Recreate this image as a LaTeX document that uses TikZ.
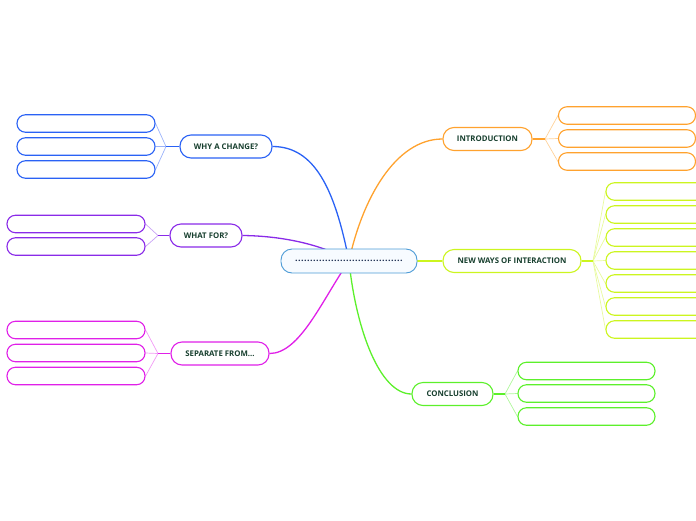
\documentclass[tikz,border=0pt]{standalone}
\usepackage{fontspec}
\setmainfont{Open Sans}
\usetikzlibrary{backgrounds,calc}
\definecolor{txt}{HTML}{173F2E}
\definecolor{cblue}{HTML}{2A62F5}\definecolor{lblue}{HTML}{9AB2FA}
\definecolor{cpurp}{HTML}{8A2BE8}\definecolor{lpurp}{HTML}{C8A2F5}
\definecolor{cmag}{HTML}{E020E8}\definecolor{lmag}{HTML}{F29AF5}
\definecolor{corg}{HTML}{FFA22E}\definecolor{lorg}{HTML}{FFD29A}
\definecolor{cyel}{HTML}{CCF51F}\definecolor{lyel}{HTML}{E8FA9E}
\definecolor{cgrn}{HTML}{5CF02B}\definecolor{lgrn}{HTML}{AEF79A}
\definecolor{cbord}{HTML}{4C9BD6}\definecolor{cfill}{HTML}{F7FBFF}
\definecolor{dotc}{HTML}{1C2D4F}
\newcommand\dotrow{\foreach \i in {1,...,36}{\makebox[3pt]{.}}}
\newcommand\twigs[3]{% junction, leaf prefix, list
  \foreach \n in {#3}{\draw[twig] (#1) .. controls ($(#1)!0.7!(#2\n)$ |- #1) and ($(#1)!0.3!(#2\n)$ |- #2\n) .. (#2\n);}}
\tikzset{
  mainnode/.style={draw=#1, line width=1.1pt, rounded corners=11pt, fill=white,
    minimum height=23pt, inner sep=0pt, font=\fontsize{7.8}{9}\selectfont\bfseries, text=txt},
  leaf/.style={draw=#1, line width=1.1pt, rounded corners=8.5pt, fill=white,
    minimum height=17.5pt, minimum width=138pt, inner sep=0pt},
  stub/.style={draw=#1, line width=1.2pt},
  twig/.style={line width=0.7pt},
  branch/.style={draw=#1, line width=1.3pt},
}
\begin{document}
\begin{tikzpicture}[x=1pt,y=-1pt]
\useasboundingbox (0,0) rectangle (696,520);
\clip (0,0) rectangle (696,520);
% central
\node[draw=cbord, line width=0.9pt, rounded corners=11pt, fill=cfill, minimum width=136pt,
  minimum height=24pt, inner sep=0pt, text=dotc, font=\fontsize{9}{9}\selectfont\bfseries] (c) at (349,261) {\dotrow};
% main nodes
\node[mainnode=cblue, minimum width=92pt] (why) at (226,146.5) {WHY A CHANGE?};
\node[mainnode=cpurp, minimum width=72pt] (wf) at (206,235.5) {WHAT FOR?};
\node[mainnode=cmag, minimum width=98pt] (sep) at (220,353.5) {SEPARATE FROM...};
\node[mainnode=corg, minimum width=89pt] (intro) at (487.5,139) {INTRODUCTION};
\node[mainnode=cyel, minimum width=138pt] (nw) at (512,261) {NEW WAYS OF INTERACTION};
\node[mainnode=cgrn, minimum width=81pt] (con) at (452.5,394) {CONCLUSION};
% leaves
\foreach \n/\y in {1/123.5,2/146.5,3/169.5}{\node[leaf=cblue] (why\n) at (86,\y) {};}
\foreach \n/\y in {1/224,2/246.5}{\node[leaf=cpurp] (wf\n) at (76,\y) {};}
\foreach \n/\y in {1/330,2/353,3/376}{\node[leaf=cmag] (sep\n) at (76,\y) {};}
\foreach \n/\y in {1/115.5,2/138.5,3/161.5}{\node[leaf=corg, minimum width=137pt] (in\n) at (627,\y) {};}
\foreach \n/\y in {1/191.5,2/214.5,3/237.5,4/260.5,5/283.5,6/306.5,7/329.5}{\node[leaf=cyel] (nw\n) at (675,\y) {};}
\foreach \n/\y in {1/371,2/393.5,3/416.5}{\node[leaf=cgrn, minimum width=137pt] (con\n) at (586.5,\y) {};}
% junction points
\coordinate (jwhy) at (166,146.5);
\coordinate (jwf) at (158,235.5);
\coordinate (jsep) at (158,353.5);
\coordinate (jin) at (545,139);
\coordinate (jnw) at (593,261);
\coordinate (jcon) at (505,394);
\begin{scope}[on background layer]
% main branches
\draw[branch=cblue] (c.center) .. controls (335,190) and (315,146.5) .. (why.east);
\draw[branch=cpurp] (wf.east) .. controls (290,236) and (330,248) .. (c.center);
\draw[branch=cmag] (sep.east) .. controls (300,353.5) and (322,300) .. (c.center);
\draw[branch=corg] (c.center) .. controls (362,200) and (395,139) .. (intro.west);
\draw[branch=cyel] (c.center) -- (nw.west);
\draw[branch=cgrn] (c.center) .. controls (356,330) and (380,394) .. (con.west);
% twigs
\begin{scope}[lblue]\twigs{jwhy}{why}{1.east,2.east,3.east}\end{scope}
\begin{scope}[lpurp]\twigs{jwf}{wf}{1.east,2.east}\end{scope}
\begin{scope}[lmag]\twigs{jsep}{sep}{1.east,2.east,3.east}\end{scope}
\begin{scope}[lorg]\twigs{jin}{in}{1.west,2.west,3.west}\end{scope}
\begin{scope}[lyel]\twigs{jnw}{nw}{1.west,2.west,3.west,4.west,5.west,6.west,7.west}\end{scope}
\begin{scope}[lgrn]\twigs{jcon}{con}{1.west,2.west,3.west}\end{scope}
% stubs
\draw[stub=cblue] (why.west) -- (jwhy);
\draw[stub=cpurp] (wf.west) -- (jwf);
\draw[stub=cmag] (sep.west) -- (jsep);
\draw[stub=corg] (intro.east) -- (jin);
\draw[stub=cyel] (nw.east) -- (jnw);
\draw[stub=cgrn] (con.east) -- (jcon);
\end{scope}
\end{tikzpicture}
\end{document}
